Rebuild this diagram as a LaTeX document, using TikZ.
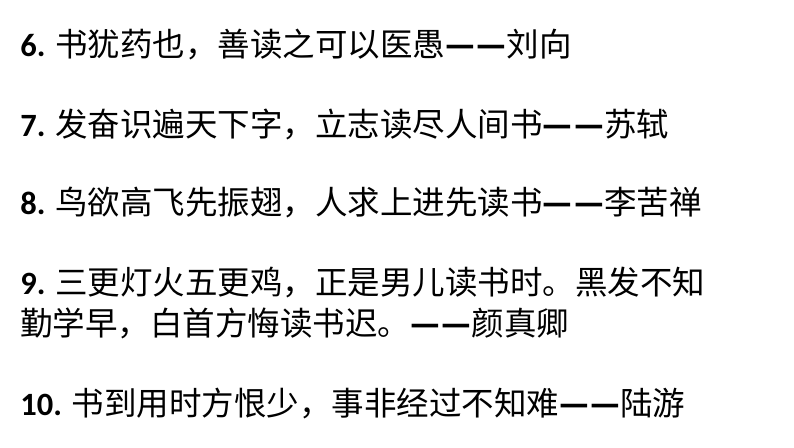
\documentclass[tikz,border=0pt]{standalone}
\usepackage{fontspec}
\setmainfont{Carlito}
\newfontfamily\cjk{Noto Sans CJK SC}
\tikzset{
    quoteline/.style={anchor=west, inner sep=0pt, font=\fontsize{18.5}{22}\selectfont\cjk},
}
\newcommand{\num}[1]{{\fontspec{Carlito}\bfseries #1}}
\newcommand{\dashes}{{\bfseries —\kern1pt—}}
\begin{document}
\begin{tikzpicture}[x=0.02cm,y=-0.02cm]
\useasboundingbox (0,0) rectangle (794,447);
% quotes
\node[quoteline] (q6) at (20,45) {\num{6.} 书犹药也，善读之可以医愚\dashes 刘向};
\node[quoteline] (q7) at (20,124) {\num{7.} 发奋识遍天下字，立志读尽人间书\dashes 苏轼};
\node[quoteline] (q8) at (20,203) {\num{8.} 鸟欲高飞先振翅，人求上进先读书\dashes 李苦禅};
\node[quoteline] (q9) at (20,283) {\num{9.} 三更灯火五更鸡，正是男儿读书时。黑发不知};
\node[quoteline] (q9b) at (20,323) {勤学早，白首方悔读书迟。\dashes 颜真卿};
\node[quoteline] (q10) at (20,403) {\num{10.} 书到用时方恨少，事非经过不知难\dashes 陆游};
\end{tikzpicture}
\end{document}
